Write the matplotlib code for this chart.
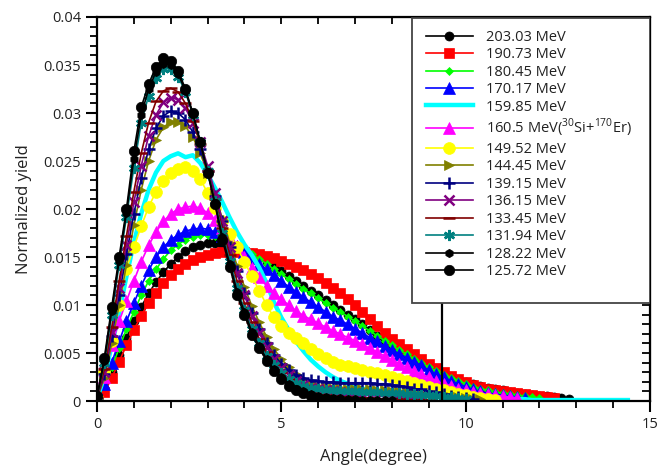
import matplotlib
matplotlib.use('Agg')
import matplotlib.pyplot as plt
from matplotlib.patches import Rectangle
from matplotlib.ticker import MultipleLocator

plt.rcParams['font.family'] = ['Open Sans', 'DejaVu Sans']
plt.rcParams['mathtext.fontset'] = 'custom'
plt.rcParams['mathtext.rm'] = 'Open Sans'

# angle grid (degree), 0.2 step
angle = [0.0, 0.2, 0.4, 0.6, 0.8, 1.0, 1.2, 1.4, 1.6, 1.8,
         2.0, 2.2, 2.4, 2.6, 2.8, 3.0, 3.2, 3.4, 3.6, 3.8,
         4.0, 4.2, 4.4, 4.6, 4.8, 5.0, 5.2, 5.4, 5.6, 5.8,
         6.0, 6.2, 6.4, 6.6, 6.8, 7.0, 7.2, 7.4, 7.6, 7.8,
         8.0, 8.2, 8.4, 8.6, 8.8, 9.0, 9.2, 9.4, 9.6, 9.8,
         10.0, 10.2, 10.4, 10.6, 10.8, 11.0, 11.2, 11.4, 11.6, 11.8,
         12.0, 12.2, 12.4, 12.6, 12.8, 13.0, 13.2, 13.4, 13.6, 13.8,
         14.0, 14.2, 14.4]

y_203 = [0.0002, 0.0013, 0.0030, 0.0048, 0.0066, 0.0083, 0.0098, 0.0112, 0.0124, 0.0134,
         0.0143, 0.0150, 0.0156, 0.0160, 0.0163, 0.0165, 0.0165, 0.0164, 0.0162, 0.0160,
         0.0157, 0.0154, 0.0150, 0.0145, 0.0140, 0.0135, 0.0130, 0.0125, 0.0120, 0.0115,
         0.0110, 0.0105, 0.0100, 0.0095, 0.0090, 0.0085, 0.0080, 0.0074, 0.0068, 0.0063,
         0.0058, 0.0053, 0.0049, 0.0044, 0.0040, 0.0036, 0.0032, 0.0028, 0.0025, 0.0022,
         0.0020, 0.0018, 0.0016, 0.0014, 0.0012, 0.0011, 0.0009, 0.0008, 0.0007, 0.0006,
         0.0005, 0.0005, 0.0004, 0.0003, 0.0002]
y_190 = [0.0001, 0.0009, 0.0024, 0.0041, 0.0058, 0.0074, 0.0089, 0.0102, 0.0113, 0.0123,
         0.0131, 0.0138, 0.0143, 0.0147, 0.0150, 0.0152, 0.0154, 0.0155, 0.0155, 0.0155,
         0.0155, 0.0154, 0.0153, 0.0151, 0.0149, 0.0146, 0.0143, 0.0140, 0.0136, 0.0132,
         0.0128, 0.0123, 0.0118, 0.0112, 0.0106, 0.0100, 0.0093, 0.0085, 0.0078, 0.0071,
         0.0065, 0.0059, 0.0054, 0.0049, 0.0044, 0.0039, 0.0034, 0.0030, 0.0026, 0.0023,
         0.0020, 0.0017, 0.0015, 0.0013, 0.0011, 0.0010, 0.0009, 0.0008, 0.0007, 0.0006,
         0.0005, 0.0004, 0.0003]
y_180 = [0.0002, 0.0016, 0.0035, 0.0055, 0.0075, 0.0093, 0.0110, 0.0125, 0.0137, 0.0148,
         0.0157, 0.0163, 0.0168, 0.0171, 0.0173, 0.0173, 0.0172, 0.0169, 0.0166, 0.0162,
         0.0158, 0.0153, 0.0148, 0.0143, 0.0137, 0.0132, 0.0127, 0.0122, 0.0117, 0.0112,
         0.0107, 0.0102, 0.0097, 0.0093, 0.0088, 0.0083, 0.0078, 0.0073, 0.0068, 0.0063,
         0.0058, 0.0053, 0.0049, 0.0044, 0.0040, 0.0035, 0.0031, 0.0027, 0.0024, 0.0021,
         0.0018, 0.0015, 0.0013, 0.0011, 0.0009, 0.0008, 0.0007, 0.0006, 0.0005, 0.0004,
         0.0003]
y_170 = [0.0002, 0.0018, 0.0040, 0.0062, 0.0083, 0.0102, 0.0120, 0.0136, 0.0150, 0.0160,
         0.0168, 0.0173, 0.0177, 0.0179, 0.0180, 0.0179, 0.0176, 0.0172, 0.0167, 0.0161,
         0.0155, 0.0149, 0.0143, 0.0137, 0.0131, 0.0125, 0.0119, 0.0114, 0.0108, 0.0103,
         0.0098, 0.0093, 0.0088, 0.0084, 0.0080, 0.0075, 0.0071, 0.0066, 0.0062, 0.0057,
         0.0053, 0.0049, 0.0045, 0.0041, 0.0037, 0.0032, 0.0028, 0.0025, 0.0021, 0.0018,
         0.0015, 0.0012, 0.0010, 0.0008, 0.0007, 0.0006, 0.0005, 0.0004, 0.0003]
y_159 = [0.0003, 0.0025, 0.0058, 0.0092, 0.0130, 0.0165, 0.0195, 0.0220, 0.0238, 0.0250,
         0.0255, 0.0258, 0.0254, 0.0256, 0.0248, 0.0236, 0.0222, 0.0207, 0.0191, 0.0176,
         0.0163, 0.0152, 0.0139, 0.0123, 0.0103, 0.0087, 0.0074, 0.0062, 0.0052, 0.0043,
         0.0036, 0.0030, 0.0025, 0.0021, 0.0018, 0.0015, 0.0013, 0.0011, 0.0010, 0.0009,
         0.0008, 0.0007, 0.0006, 0.0006, 0.0005, 0.0005, 0.0004, 0.0004, 0.0004, 0.0003,
         0.0003, 0.0003, 0.0003, 0.0002, 0.0002, 0.0002, 0.0002, 0.0002, 0.0002, 0.0001,
         0.0001, 0.0001, 0.0001, 0.0001, 0.0001, 0.0001, 0.0001, 0.0001, 0.0001, 0.0001,
         0.0001, 0.0001, 0.0001]
y_160 = [0.0003, 0.0025, 0.0058, 0.0083, 0.0104, 0.0125, 0.0145, 0.0162, 0.0176, 0.0187,
         0.0195, 0.0200, 0.0202, 0.0203, 0.0201, 0.0196, 0.0189, 0.0180, 0.0170, 0.0161,
         0.0150, 0.0139, 0.0129, 0.0120, 0.0113, 0.0106, 0.0100, 0.0094, 0.0089, 0.0085,
         0.0081, 0.0077, 0.0073, 0.0070, 0.0066, 0.0063, 0.0059, 0.0055, 0.0051, 0.0047,
         0.0043, 0.0039, 0.0035, 0.0031, 0.0028, 0.0025, 0.0021, 0.0018, 0.0016, 0.0013,
         0.0011, 0.0009, 0.0008, 0.0007, 0.0006, 0.0005, 0.0004, 0.0003]
y_149 = [0.0003, 0.0030, 0.0062, 0.0100, 0.0138, 0.0160, 0.0182, 0.0202, 0.0218, 0.0229,
         0.0237, 0.0242, 0.0244, 0.0240, 0.0231, 0.0217, 0.0201, 0.0187, 0.0174, 0.0160,
         0.0145, 0.0130, 0.0115, 0.0100, 0.0087, 0.0078, 0.0071, 0.0066, 0.0060, 0.0054,
         0.0049, 0.0045, 0.0041, 0.0038, 0.0036, 0.0034, 0.0032, 0.0030, 0.0029, 0.0027,
         0.0025, 0.0023, 0.0021, 0.0019, 0.0017, 0.0015, 0.0013, 0.0011, 0.0009, 0.0007,
         0.0006, 0.0004, 0.0003, 0.0002, 0.0001]
y_144 = [0.0002, 0.0024, 0.0060, 0.0100, 0.0142, 0.0183, 0.0220, 0.0250, 0.0272, 0.0285,
         0.0291, 0.0291, 0.0286, 0.0275, 0.0258, 0.0238, 0.0215, 0.0190, 0.0165, 0.0141,
         0.0119, 0.0099, 0.0082, 0.0067, 0.0054, 0.0044, 0.0035, 0.0028, 0.0023, 0.0019,
         0.0016, 0.0015, 0.0014, 0.0014, 0.0013, 0.0013, 0.0012, 0.0012, 0.0011, 0.0011,
         0.0010, 0.0010, 0.0009, 0.0008, 0.0008, 0.0007, 0.0006, 0.0005, 0.0004, 0.0004,
         0.0003, 0.0002, 0.0002]
y_139 = [0.0003, 0.0028, 0.0068, 0.0110, 0.0153, 0.0195, 0.0232, 0.0262, 0.0284, 0.0297,
         0.0302, 0.0300, 0.0293, 0.0280, 0.0262, 0.0240, 0.0214, 0.0187, 0.0160, 0.0135,
         0.0112, 0.0092, 0.0075, 0.0060, 0.0048, 0.0039, 0.0032, 0.0027, 0.0024, 0.0022,
         0.0021, 0.0020, 0.0020, 0.0019, 0.0019, 0.0019, 0.0019, 0.0019, 0.0018, 0.0018,
         0.0017, 0.0016, 0.0015, 0.0013, 0.0012, 0.0010, 0.0009, 0.0007, 0.0005, 0.0004,
         0.0003, 0.0002]
y_136 = [0.0003, 0.0030, 0.0072, 0.0118, 0.0163, 0.0207, 0.0245, 0.0276, 0.0298, 0.0311,
         0.0316, 0.0314, 0.0305, 0.0290, 0.0270, 0.0245, 0.0217, 0.0188, 0.0160, 0.0133,
         0.0110, 0.0089, 0.0071, 0.0056, 0.0044, 0.0034, 0.0027, 0.0021, 0.0017, 0.0014,
         0.0012, 0.0011, 0.0010, 0.0009, 0.0008, 0.0008, 0.0007, 0.0006, 0.0005, 0.0005,
         0.0004, 0.0003, 0.0003, 0.0002, 0.0002]
y_133 = [0.0003, 0.0033, 0.0077, 0.0125, 0.0172, 0.0218, 0.0258, 0.0290, 0.0312, 0.0323,
         0.0326, 0.0322, 0.0310, 0.0292, 0.0268, 0.0240, 0.0210, 0.0180, 0.0152, 0.0125,
         0.0102, 0.0082, 0.0065, 0.0051, 0.0039, 0.0030, 0.0023, 0.0017, 0.0013, 0.0010,
         0.0007, 0.0006, 0.0005, 0.0004, 0.0004, 0.0003, 0.0003, 0.0003, 0.0002, 0.0002,
         0.0002, 0.0002, 0.0001, 0.0001, 0.0001, 0.0001]
y_131 = [0.0004, 0.0040, 0.0090, 0.0142, 0.0192, 0.0243, 0.0290, 0.0318, 0.0336, 0.0346,
         0.0346, 0.0338, 0.0322, 0.0298, 0.0270, 0.0240, 0.0208, 0.0175, 0.0146, 0.0118,
         0.0095, 0.0075, 0.0060, 0.0047, 0.0037, 0.0029, 0.0023, 0.0019, 0.0016, 0.0014,
         0.0012, 0.0011, 0.0011, 0.0010, 0.0010, 0.0010, 0.0009, 0.0009, 0.0009, 0.0008,
         0.0008, 0.0008, 0.0007, 0.0007, 0.0006, 0.0006, 0.0005, 0.0004, 0.0004, 0.0003,
         0.0002]
y_128 = [0.0004, 0.0042, 0.0094, 0.0146, 0.0196, 0.0252, 0.0298, 0.0325, 0.0343, 0.0351,
         0.0350, 0.0341, 0.0323, 0.0299, 0.0270, 0.0239, 0.0206, 0.0171, 0.0143, 0.0114,
         0.0093, 0.0072, 0.0057, 0.0044, 0.0033, 0.0025, 0.0018, 0.0013, 0.0010, 0.0007,
         0.0005, 0.0004, 0.0003, 0.0003, 0.0002, 0.0002, 0.0001, 0.0001, 0.0001, 0.0001,
         0.0001]
y_125 = [0.0005, 0.0045, 0.0098, 0.0150, 0.0200, 0.0260, 0.0306, 0.0330, 0.0348, 0.0357,
         0.0354, 0.0344, 0.0325, 0.0300, 0.0270, 0.0238, 0.0205, 0.0168, 0.0140, 0.0110,
         0.0090, 0.0069, 0.0055, 0.0042, 0.0031, 0.0023, 0.0016, 0.0011, 0.0008, 0.0005,
         0.0003, 0.0002, 0.0001, 0.0000]

labels = ['203.03 MeV', '190.73 MeV', '180.45 MeV', '170.17 MeV', '159.85 MeV',
          '160.5 MeV($^{30}$Si+$^{170}$Er)', '149.52 MeV', '144.45 MeV', '139.15 MeV',
          '136.15 MeV', '133.45 MeV', '131.94 MeV', '128.22 MeV', '125.72 MeV']
series = [y_203, y_190, y_180, y_170, y_159, y_160, y_149, y_144,
          y_139, y_136, y_133, y_131, y_128, y_125]

# (colour, marker, markersize, linewidth)
styles = [
    ('black',   'o',       6.5, 1.2),
    ('#ff0000', 's',       7.0, 1.2),
    ('#00ff00', 'D',       4.5, 1.2),
    ('#0000ff', '^',       8.0, 1.2),
    ('#00ffff', None,      0,   3.2),
    ('#ff00ff', '^',       8.0, 1.2),
    ('#ffff00', 'o',       8.5, 1.2),
    ('#808000', '>',       7.5, 1.2),
    ('#000080', '+',       8.0, 1.2),
    ('#800080', 'x',       6.5, 1.2),
    ('#800000', '_',       8.0, 1.2),
    ('#008080', (6, 2, 0), 8.0, 1.2),
    ('black',   'h',       6.0, 1.2),
    ('black',   'o',       7.5, 1.2),
]

fig = plt.figure(figsize=(6.58, 4.67), dpi=100)
ax = fig.add_axes([0.1474, 0.1413, 0.8404, 0.8223])

for ys, lab, (c, m, ms, lw) in zip(series, labels, styles):
    ax.plot(angle[:len(ys)], ys, color=c, marker=m, markersize=ms, linewidth=lw,
            markeredgewidth=1.8 if m in ('+', 'x', '_', (6, 2, 0)) else 0.5,
            label=lab)

ax.axvline(9.37, color='black', linewidth=1.6, zorder=3)

ax.set_xlim(0, 15)
ax.set_ylim(0, 0.04)
ax.xaxis.set_major_locator(MultipleLocator(5))
ax.xaxis.set_minor_locator(MultipleLocator(1))
ax.yaxis.set_minor_locator(MultipleLocator(0.001))
ax.set_yticks([0, 0.005, 0.01, 0.015, 0.02, 0.025, 0.03, 0.035, 0.04])
ax.set_yticklabels(['0', '0.005', '0.01', '0.015', '0.02', '0.025', '0.03', '0.035', '0.04'])
ax.tick_params(which='major', direction='out', length=8, width=1.5, labelsize=10.5)
ax.tick_params(which='minor', direction='out', length=5, width=1.3)
ax.tick_params(axis='both', labelcolor='#222222')
for s in ax.spines.values():
    s.set_linewidth(1.6)

top = ax.secondary_xaxis('top')
top.xaxis.set_major_locator(MultipleLocator(1))
top.tick_params(direction='in', length=5, width=1.3, labeltop=False)
right = ax.secondary_yaxis('right')
right.yaxis.set_major_locator(MultipleLocator(0.001))
right.tick_params(direction='in', length=6, width=1.3, labelright=False)

ax.set_xlabel('Angle(degree)', fontsize=12, color='#222222', labelpad=12)
ax.set_ylabel('Normalized yield', fontsize=12, color='#222222', labelpad=8)

# legend frame drawn separately so that it can be taller than the entries
ax.add_patch(Rectangle((0.5696, 0.255), 0.4304, 0.742, transform=ax.transAxes,
                       facecolor='white', edgecolor='#444444', linewidth=1.3, zorder=4))
leg = ax.legend(loc='upper left', bbox_to_anchor=(0.582, 0.986), frameon=False,
                borderpad=0, handlelength=3.2, handletextpad=0.9, labelspacing=0.17,
                fontsize=10.5, numpoints=1)
leg.set_zorder(5)
for t in leg.get_texts():
    t.set_color('#222222')

fig.savefig('out.png', dpi=100)
